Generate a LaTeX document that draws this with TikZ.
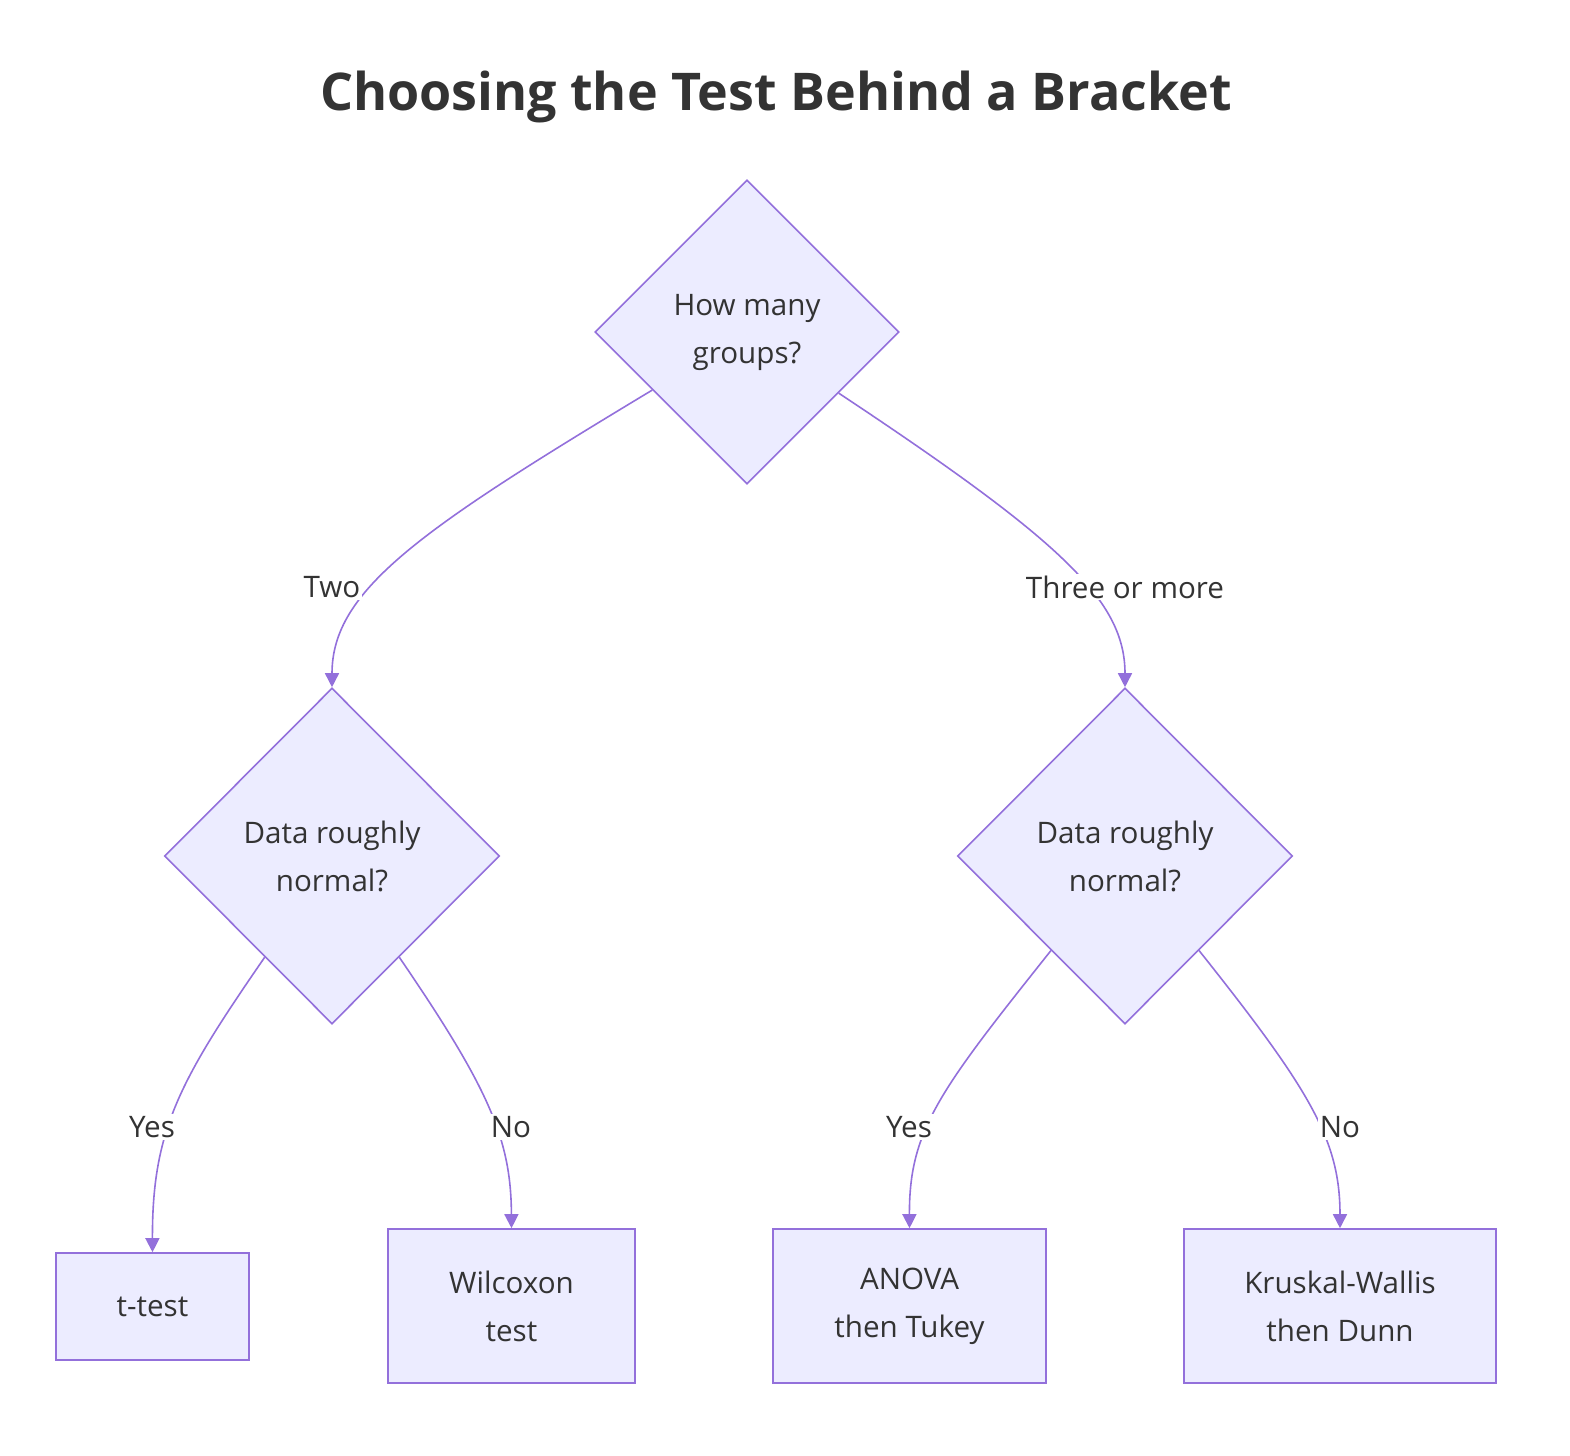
\documentclass[tikz,border=0pt]{standalone}
\usepackage{fontspec}
\setmainfont{Open Sans}
\usetikzlibrary{shapes.geometric,arrows.meta,calc}
\definecolor{nfill}{HTML}{ECECFF}
\definecolor{nline}{HTML}{9370DB}
\definecolor{ntext}{HTML}{333333}
\begin{document}
\begin{tikzpicture}[x=0.5pt,y=-0.5pt,
  txt/.style={text=ntext,font=\fontsize{14.8pt}{24pt}\selectfont,align=center},
  dia/.style={txt,diamond,draw=nline,fill=nfill,line width=0.8pt,inner sep=0pt},
  box/.style={txt,rectangle,draw=nline,fill=nfill,line width=0.8pt,inner sep=0pt},
  lbl/.style={txt,fill=white,inner sep=1pt},
  edge/.style={draw=nline,line width=0.8pt,-{Triangle[length=7pt,width=7pt]}}]
\useasboundingbox (0,0) rectangle (1570,1456);
\node[text=ntext,font=\fontsize{26pt}{32pt}\selectfont\bfseries] (title) at (776,97) {Choosing the Test Behind a Bracket};
\node[dia,minimum width=152pt,minimum height=152pt] (top) at (747,332) {How many\\groups?};
\node[dia,minimum width=167.5pt,minimum height=168pt] (L) at (332,856) {Data roughly\\normal?};
\node[dia,minimum width=167.5pt,minimum height=168pt] (R) at (1125,856) {Data roughly\\normal?};
\node[box,minimum width=96.5pt,minimum height=53.5pt] (t) at (152.5,1306.5) {t-test};
\node[box,minimum width=123.5pt,minimum height=77pt] (w) at (511.5,1306) {Wilcoxon\\test};
\node[box,minimum width=136.5pt,minimum height=77pt] (a) at (909.5,1306) {ANOVA\\then Tukey};
\node[box,minimum width=156pt,minimum height=77pt] (k) at (1340,1306) {Kruskal-Wallis\\then Dunn};
% edges
\draw[edge] ($(top.west)!0.38!(top.south)$) .. controls (420,530) and (332,590) .. (L.north);
\draw[edge] ($(top.east)!0.40!(top.south)$) .. controls (1060,540) and (1125,600) .. (R.north);
\draw[edge] ($(L.west)!0.6!(L.south)$) .. controls (180,1080) and (152,1130) .. (t.north);
\draw[edge] ($(L.east)!0.6!(L.south)$) .. controls (490,1090) and (511,1140) .. (w.north);
\draw[edge] ($(R.west)!0.56!(R.south)$) .. controls (940,1090) and (909,1130) .. (a.north);
\draw[edge] ($(R.east)!0.56!(R.south)$) .. controls (1310,1090) and (1340,1140) .. (k.north);
\node[lbl] (l1) at (332,587) {Two};
\node[lbl] (l2) at (1125,587) {Three or more};
\node[lbl] (l3) at (152,1127) {Yes};
\node[lbl] (l4) at (511,1127) {No};
\node[lbl] (l5) at (909,1127) {Yes};
\node[lbl] (l6) at (1340,1127) {No};
\end{tikzpicture}
\end{document}
